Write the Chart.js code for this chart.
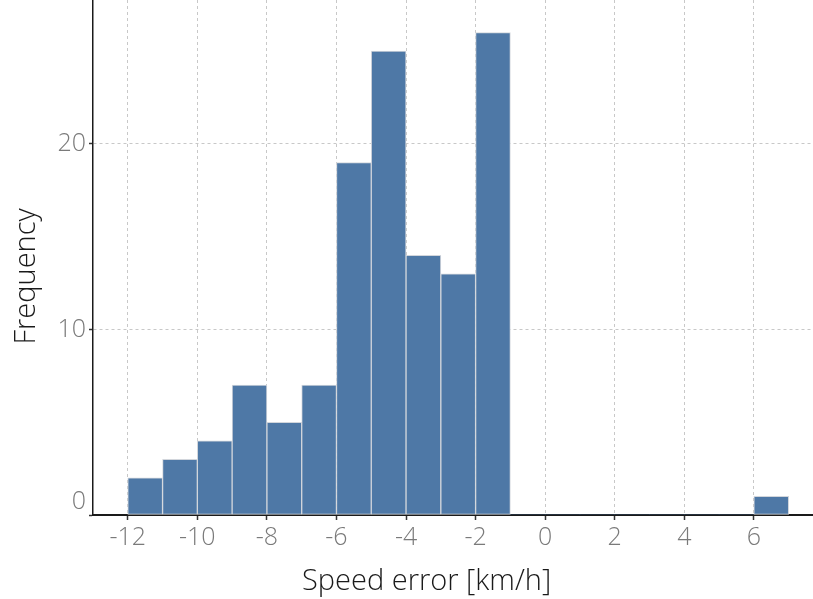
<!DOCTYPE html>
<html>
<head>
<meta charset="utf-8">
<script src="https://cdn.jsdelivr.net/npm/chart.js@4/dist/chart.umd.min.js"></script>
<style>
  html, body { margin: 0; padding: 0; background: #ffffff; }
  #wrap { width: 813px; height: 599px; }
</style>
</head>
<body>
<div id="wrap"><canvas id="c" width="813" height="599"></canvas></div>
<script>
// Histogram bins (left edges, width 1 km/h) and counts
const binStarts = [-12, -11, -10, -9, -8, -7, -6, -5, -4, -3, -2, -1, 0, 1, 2, 3, 4, 5, 6];
const counts    = [  2,   3,   4,  7,  5,  7, 19, 25, 14, 13, 26,  0, 0, 0, 0, 0, 0, 0, 1];
const xTicks = [-12, -10, -8, -6, -4, -2, 0, 2, 4, 6];
const yTicks = [0, 10, 20];
const xTitle = 'Speed error [km/h]';
const yTitle = 'Frequency';

const FONT = "'Open Sans', 'Noto Sans', sans-serif";
const points = binStarts.map((b, i) => ({ x: b + 0.5, y: counts[i] }));

new Chart(document.getElementById('c'), {
  type: 'bar',
  data: {
    datasets: [{
      data: points,
      backgroundColor: '#4e78a6',
      borderColor: '#d2d6dc',
      borderWidth: (ctx) => (ctx.raw && ctx.raw.y > 0 ? 1 : 0),
      borderSkipped: false,
      barPercentage: 1.0,
      categoryPercentage: 1.0,
      grouped: false
    }]
  },
  options: {
    responsive: false,
    animation: false,
    devicePixelRatio: 1,
    layout: { padding: 0 },
    plugins: { legend: { display: false }, tooltip: { enabled: false }, title: { display: false } },
    scales: {
      x: {
        type: 'linear',
        min: -13,
        max: 7.7,
        offset: false,
        afterBuildTicks: (s) => { s.ticks = xTicks.map(v => ({ value: v })); },
        afterFit: (s) => { s.height = 84; s.paddingLeft = 0; s.paddingRight = 0; },
        ticks: {
          color: '#7a7a7a',
          font: { family: FONT, size: 25, weight: 300 },
          padding: 3,
          maxRotation: 0,
          callback: (v) => String(v)
        },
        grid: {
          offset: false,
          color: '#c8c8c8',
          lineWidth: 1,
          drawTicks: true,
          tickLength: 5,
          tickColor: '#333333',
          tickWidth: 1.5
        },
        border: { display: true, color: '#1a1a1a', width: 2, dash: [3, 3] },
        title: {
          display: true,
          text: xTitle + '\u00a0\u00a0\u00a0\u00a0\u00a0\u00a0\u00a0',
          color: '#1a1a1a',
          font: { family: FONT, size: 29, weight: 300 },
          padding: { top: 0, bottom: 0 }
        }
      },
      y: {
        type: 'linear',
        min: 0,
        max: 27.76,
        afterBuildTicks: (s) => { s.ticks = yTicks.map(v => ({ value: v })); },
        afterFit: (s) => { s.width = 93; s.paddingTop = 0; s.paddingBottom = 0; },
        ticks: {
          color: '#7a7a7a',
          font: { family: FONT, size: 25, weight: 300, lineHeight: 1.04 },
          padding: 3,
          callback: (v) => (v === 0 ? ['0', ''] : String(v))
        },
        grid: {
          color: '#c8c8c8',
          lineWidth: 1,
          drawTicks: true,
          tickLength: 4,
          tickColor: '#333333',
          tickWidth: 1.5
        },
        border: { display: true, color: '#1a1a1a', width: 1.5, dash: [3, 3] },
        title: {
          display: true,
          text: yTitle + '\u00a0\u00a0\u00a0\u00a0\u00a0',
          color: '#1a1a1a',
          font: { family: FONT, size: 29, weight: 300 },
          padding: { top: 9, bottom: 0 }
        }
      }
    }
  }
});
</script>
</body>
</html>
